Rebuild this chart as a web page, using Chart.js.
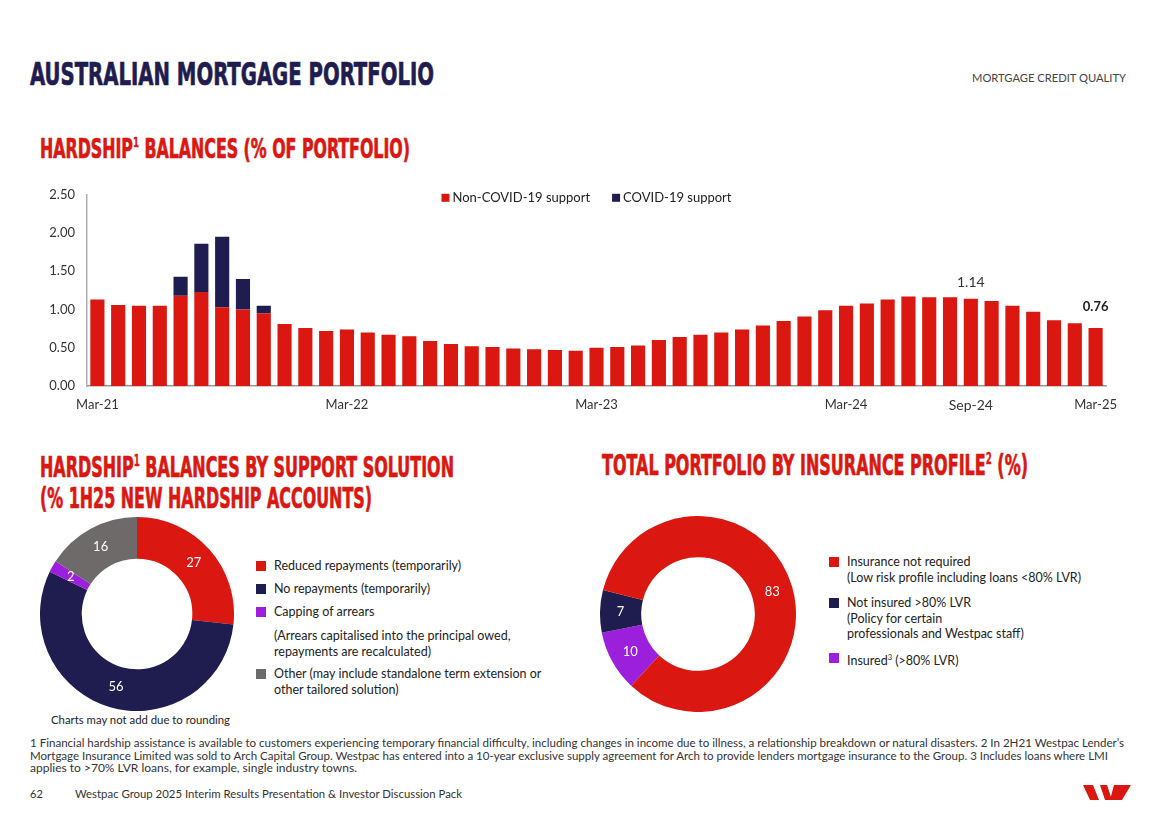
<!DOCTYPE html>
<html>
<head>
<meta charset="utf-8">
<script src="https://cdn.jsdelivr.net/npm/chart.js@4.4.1/dist/chart.umd.min.js"></script>
<style>
  html, body { margin:0; padding:0; background:#fff; }
  body { width:1168px; height:825px; position:relative; overflow:hidden; font-family: Lato, "Noto Sans", sans-serif; color:#222; }
  .abs { position:absolute; white-space:nowrap; }
  .fit { display:inline-block; transform-origin:left center; }
  .head { font-family:"Liberation Sans Narrow","DejaVu Sans Condensed",sans-serif; font-weight:700; line-height:1; -webkit-text-stroke:0.7px currentColor; letter-spacing:0; }
  .navy { color:#1F1C4F; }
  .red { color:#DA1710; }
  .sup { font-size:0.55em; vertical-align:0.72em; -webkit-text-stroke:0.3px currentColor; }
  .leg { font-size:12.5px; line-height:15.5px; color:#222; }
  .sq { position:absolute; width:10px; height:10px; }
  .foot { font-size:10.5px; line-height:13px; color:#333; }
</style>
</head>
<body>
<!-- headings -->
<div class="abs head navy" style="left:30px; top:58px; font-size:32px;"><span class="fit" data-w="404">AUSTRALIAN MORTGAGE PORTFOLIO</span></div>
<div class="abs" style="left:972px; top:71px; font-size:11px; line-height:14px; color:#444;"><span class="fit" data-w="154">MORTGAGE CREDIT QUALITY</span></div>
<div class="abs head red" style="left:40px; top:135px; font-size:27px;"><span class="fit" data-w="370">HARDSHIP<span class="sup">1</span> BALANCES (% OF PORTFOLIO)</span></div>
<div class="abs head red" style="left:40px; top:453px; font-size:29px;"><span class="fit" data-w="414">HARDSHIP<span class="sup">1</span> BALANCES BY SUPPORT SOLUTION</span></div>
<div class="abs head red" style="left:40px; top:484px; font-size:29px;"><span class="fit" data-w="332">(% 1H25 NEW HARDSHIP ACCOUNTS)</span></div>
<div class="abs head red" style="left:602px; top:451px; font-size:29px;"><span class="fit" data-w="426">TOTAL PORTFOLIO BY INSURANCE PROFILE<span class="sup">2</span> (%)</span></div>

<!-- charts -->
<canvas id="bar" class="abs" width="1120" height="245" style="left:20px; top:175px; width:1120px; height:245px;"></canvas>
<canvas id="d1" class="abs" width="194" height="194" style="left:40px; top:517px; width:194px; height:194px;"></canvas>
<canvas id="d2" class="abs" width="196" height="196" style="left:600px; top:516px; width:196px; height:196px;"></canvas>

<div id="leg1"></div>
<div id="leg2"></div>

<div class="abs" style="left:51px; top:713px; font-size:11px; line-height:14px; color:#222;"><span class="fit" data-w="179">Charts may not add due to rounding</span></div>

<div class="abs foot" style="left:30px; top:737px;"><span class="fit" data-w="1094">1 Financial hardship assistance is available to customers experiencing temporary financial difficulty, including changes in income due to illness, a relationship breakdown or natural disasters. 2 In 2H21 Westpac Lender’s</span></div>
<div class="abs foot" style="left:30px; top:749.5px;"><span class="fit" data-w="1078">Mortgage Insurance Limited was sold to Arch Capital Group. Westpac has entered into a 10-year exclusive supply agreement for Arch to provide lenders mortgage insurance to the Group. 3 Includes loans where LMI</span></div>
<div class="abs foot" style="left:30px; top:762px;"><span class="fit" data-w="327">applies to &gt;70% LVR loans, for example, single industry towns.</span></div>

<div class="abs foot" style="left:30px; top:787px; font-size:11px;">62</div>
<div class="abs foot" style="left:75px; top:787px; font-size:11px;"><span class="fit" data-w="387">Westpac Group 2025 Interim Results Presentation &amp; Investor Discussion Pack</span></div>

<svg class="abs" style="left:1080px; top:782px;" width="54" height="22" viewBox="1080 782 54 22">
  <polygon fill="#DA1710" points="1083,785 1093,785 1099,800 1090,800"/>
  <polygon fill="#DA1710" points="1100,785 1107,785 1112,800 1105,800"/>
  <polygon fill="#DA1710" points="1114,785 1131,785 1122,800 1110,800"/>
</svg>

<script>
// ---------------- data ----------------
const months = ['Mar-21','Apr-21','May-21','Jun-21','Jul-21','Aug-21','Sep-21','Oct-21','Nov-21','Dec-21','Jan-22','Feb-22',
  'Mar-22','Apr-22','May-22','Jun-22','Jul-22','Aug-22','Sep-22','Oct-22','Nov-22','Dec-22','Jan-23','Feb-23',
  'Mar-23','Apr-23','May-23','Jun-23','Jul-23','Aug-23','Sep-23','Oct-23','Nov-23','Dec-23','Jan-24','Feb-24',
  'Mar-24','Apr-24','May-24','Jun-24','Jul-24','Aug-24','Sep-24','Oct-24','Nov-24','Dec-24','Jan-25','Feb-25','Mar-25'];
const shownTicks = ['Mar-21','Mar-22','Mar-23','Mar-24','Sep-24','Mar-25'];
const nonCovidSupport = [1.13,1.06,1.05,1.05,1.18,1.23,1.03,1.00,0.95,0.81,0.76,0.72,
  0.74,0.70,0.67,0.65,0.59,0.55,0.52,0.51,0.49,0.48,0.47,0.46,
  0.50,0.51,0.53,0.60,0.64,0.67,0.70,0.74,0.79,0.85,0.91,0.99,
  1.05,1.08,1.13,1.17,1.16,1.16,1.14,1.11,1.05,0.97,0.86,0.82,0.76];
const covidSupport = [null,null,null,null,0.25,0.63,0.92,0.40,0.10,null,null,null,
  null,null,null,null,null,null,null,null,null,null,null,null,
  null,null,null,null,null,null,null,null,null,null,null,null,
  null,null,null,null,null,null,null,null,null,null,null,null,null];
const seriesNames = ['Non-COVID-19 support','COVID-19 support'];
const labelledMonths = ['Sep-24','Mar-25'];
const yTicks = [0, 0.5, 1.0, 1.5, 2.0, 2.5];

const supportLabels = ['Reduced repayments (temporarily)','No repayments (temporarily)','Capping of arrears','Other'];
const supportValues = [27, 56, 2, 16];
const supportLegendLines = [
  ['Reduced repayments (temporarily)'],
  ['No repayments (temporarily)'],
  ['Capping of arrears'],
  ['Other (may include standalone term extension or','other tailored solution)']
];
const supportNote = ['(Arrears capitalised into the principal owed,','repayments are recalculated)'];

const insuranceLabels = ['Insurance not required','Not insured >80% LVR','Insured (>80% LVR)'];
const insuranceValues = [83, 7, 10];
const insuranceLegendLines = [
  ['Insurance not required','(Low risk profile including loans <80% LVR)'],
  ['Not insured >80% LVR','(Policy for certain','professionals and Westpac staff)'],
  ['Insured<sup style="font-size:0.6em">3</sup> (>80% LVR)']
];

// ---------------- styles ----------------
const RED = '#DA1710', NAVY = '#1F1C4F', PURPLE = '#9B1FDB', GREY = '#6F6A6A';
const FONT = 'Lato, "Noto Sans", sans-serif';
const supportColors = [RED, NAVY, PURPLE, GREY];
const insuranceColors = [RED, NAVY, PURPLE];

function fitAll() {
  document.querySelectorAll('.fit').forEach(el => {
    el.style.transform = 'none';
    const w = el.getBoundingClientRect().width;
    const t = +el.dataset.w;
    if (w > 0 && t) el.style.transform = 'scaleX(' + (t / w) + ')';
  });
}

// HTML legends
function buildLegend(containerId, left, textLeft, rows) {
  const c = document.getElementById(containerId);
  let html = '';
  rows.forEach(r => {
    if (r.color) html += '<div class="sq" style="left:' + left + 'px; top:' + (r.y - 5) + 'px; background:' + r.color + ';"></div>';
    r.lines.forEach((ln, k) => {
      html += '<div class="abs leg" style="left:' + textLeft + 'px; top:' + (r.y - 8 + k * r.step) + 'px;">' + ln + '</div>';
    });
  });
  c.innerHTML = html;
}
const esc = s => s.replace(/</g,'&lt;').replace(/>/g,'&gt;');
buildLegend('leg1', 256, 274, [
  {color: supportColors[0], y: 566, step: 15, lines: supportLegendLines[0].map(esc)},
  {color: supportColors[1], y: 589, step: 15, lines: supportLegendLines[1].map(esc)},
  {color: supportColors[2], y: 612, step: 15, lines: supportLegendLines[2].map(esc)},
  {color: null, y: 636, step: 16, lines: supportNote.map(esc)},
  {color: supportColors[3], y: 674, step: 15.5, lines: supportLegendLines[3].map(esc)}
]);
buildLegend('leg2', 829, 847, [
  {color: insuranceColors[0], y: 562, step: 16, lines: insuranceLegendLines[0].map(esc)},
  {color: insuranceColors[1], y: 603, step: 15.5, lines: insuranceLegendLines[1].map(esc)},
  {color: insuranceColors[2], y: 658, step: 15, lines: insuranceLegendLines[2]}
]);

// ---------------- bar chart ----------------
const barLegendPlugin = {
  id: 'barLegend',
  afterDraw(chart) {
    const ctx = chart.ctx, ca = chart.chartArea;
    ctx.save();
    ctx.font = '13px ' + FONT;
    ctx.textBaseline = 'middle';
    const box = 8, gapBox = 3, gapItem = 22;
    const items = chart.data.datasets.map(d => ({ text: d.label, color: d.backgroundColor, w: box + gapBox + ctx.measureText(d.label).width }));
    const total = items.reduce((s, it) => s + it.w, 0) + gapItem * (items.length - 1);
    let x = (ca.left + ca.right) / 2 - 10 - total / 2;
    const y = ca.top + 3;
    items.forEach(it => {
      ctx.fillStyle = it.color;
      ctx.fillRect(x, y - box / 2, box, box);
      ctx.fillStyle = '#222';
      ctx.fillText(it.text, x + box + gapBox, y);
      x += it.w + gapItem;
    });
    ctx.restore();
  }
};
const barValuePlugin = {
  id: 'barValues',
  afterDatasetsDraw(chart) {
    const ctx = chart.ctx;
    const meta = chart.getDatasetMeta(0);
    ctx.save();
    ctx.textAlign = 'center';
    ctx.textBaseline = 'middle';
    labelledMonths.forEach((m, k) => {
      const i = months.indexOf(m);
      const el = meta.data[i];
      const last = (i === months.length - 1);
      ctx.font = (last ? 'bold 13px ' : '14px ') + FONT;
      ctx.fillStyle = last ? '#222' : '#333';
      ctx.fillText(nonCovidSupport[i].toFixed(2), el.x, el.y - (last ? 21 : 16));
    });
    ctx.restore();
  }
};

new Chart(document.getElementById('bar'), {
  type: 'bar',
  data: {
    labels: months,
    datasets: [
      { label: seriesNames[0], data: nonCovidSupport, backgroundColor: RED, borderWidth: 0 },
      { label: seriesNames[1], data: covidSupport, backgroundColor: NAVY, borderWidth: 0 }
    ]
  },
  options: {
    responsive: false,
    animation: false,
    layout: { padding: { top: 0, right: 34, left: 0, bottom: 0 } },
    datasets: { bar: { categoryPercentage: 1, barPercentage: 0.68 } },
    plugins: { legend: { display: false }, tooltip: { enabled: false } },
    scales: {
      x: {
        stacked: true,
        grid: { display: false, drawTicks: false },
        border: { display: true, color: '#9A9A9A', width: 1.5 },
        afterFit: s => { s.height = 34; },
        ticks: {
          autoSkip: false, maxRotation: 0, minRotation: 0, padding: 11,
          color: '#333',
          font: c => ({ family: FONT, size: (c.tick && c.tick.label === 'Sep-24') ? 14 : 13 }),
          callback: (v, i) => shownTicks.includes(months[i]) ? months[i] : ''
        }
      },
      y: {
        stacked: true, min: 0, max: 2.5,
        afterBuildTicks: s => { s.ticks = yTicks.map(v => ({ value: v })); },
        afterFit: s => { s.width = 67; },
        grid: { display: false, drawTicks: false },
        border: { display: true, color: '#B0B0B0', width: 1.5 },
        ticks: { padding: 12, color: '#333', font: { family: FONT, size: 13 }, callback: v => Number(v).toFixed(2) }
      }
    }
  },
  plugins: [barLegendPlugin, barValuePlugin]
});

// ---------------- doughnuts ----------------
const arcLabelPlugin = {
  id: 'arcLabels',
  afterDatasetsDraw(chart) {
    const ctx = chart.ctx;
    const meta = chart.getDatasetMeta(0);
    const data = chart.data.datasets[0].data;
    ctx.save();
    ctx.font = '13px ' + FONT;
    ctx.fillStyle = '#fff';
    ctx.textAlign = 'center';
    ctx.textBaseline = 'middle';
    meta.data.forEach((arc, i) => {
      const p = arc.tooltipPosition();
      ctx.fillText(String(data[i]), p.x, p.y);
    });
    ctx.restore();
  }
};
function donut(id, labels, values, colors, rotation, cutout) {
  new Chart(document.getElementById(id), {
    type: 'doughnut',
    data: { labels, datasets: [{ data: values, backgroundColor: colors, borderWidth: 0 }] },
    options: {
      responsive: false, animation: false, cutout, rotation,
      layout: { padding: 0 },
      plugins: { legend: { display: false }, tooltip: { enabled: false } }
    },
    plugins: [arcLabelPlugin]
  });
}
donut('d1', supportLabels, supportValues, supportColors, 0, '57%');
// insurance donut is drawn counter-clockwise in the reference: feed reversed order
donut('d2', insuranceLabels.slice().reverse(), insuranceValues.slice().reverse(), insuranceColors.slice().reverse(), 223, '58%');

fitAll();
if (document.fonts && document.fonts.ready) document.fonts.ready.then(fitAll);
</script>
</body>
</html>
